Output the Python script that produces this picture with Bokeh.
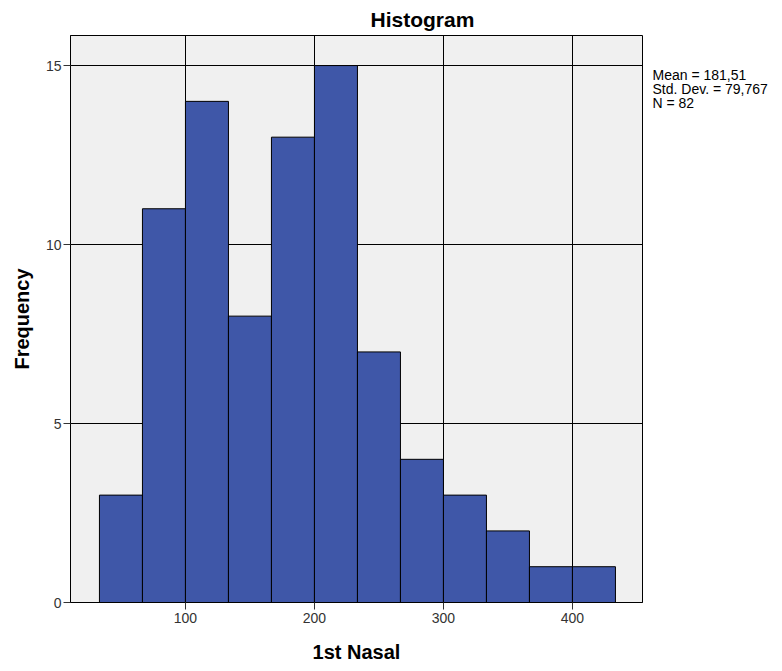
from bokeh.plotting import figure
from bokeh.models import Range1d, FixedTicker, Label
from bokeh.layouts import row
from bokeh.embed import file_html
from bokeh.resources import INLINE

# Histogram data (bin width 33.33)
bin_left = [33.333, 66.667, 100.0, 133.333, 166.667, 200.0, 233.333, 266.667, 300.0, 333.333, 366.667, 400.0]
bin_right = [66.667, 100.0, 133.333, 166.667, 200.0, 233.333, 266.667, 300.0, 333.333, 366.667, 400.0, 433.333]
counts = [3, 11, 14, 8, 13, 15, 7, 4, 3, 2, 1, 1]
x_ticks = [100, 200, 300, 400]
y_ticks = [0, 5, 10, 15]
stats = ["Mean = 181,51", "Std. Dev. = 79,767", "N = 82"]

FONT = "Liberation Sans"

p = figure(width=643, height=671, output_backend="svg", toolbar_location=None,
           x_range=Range1d(10.9, 454.3), y_range=Range1d(0, 15.84),
           min_border_left=70, min_border_right=1, min_border_top=35, min_border_bottom=69,
           title="Histogram")
p.title.text_font = FONT
p.title.text_font_size = "21px"
p.title.text_font_style = "bold"
p.title.text_color = "black"
p.title.align = "left"
p.title.offset = 300
p.title.standoff = 9

p.background_fill_color = "#F0F0F0"
p.border_fill_color = "white"
p.outline_line_color = "black"
p.outline_line_width = 1

p.xgrid.ticker = FixedTicker(ticks=x_ticks)
p.ygrid.ticker = FixedTicker(ticks=[5, 10, 15])
for g in (p.xgrid, p.ygrid):
    g.grid_line_color = "black"
    g.grid_line_width = 1
    g.level = "underlay"

p.quad(left=bin_left, right=bin_right, bottom=0, top=counts,
       fill_color="#3F57A8", line_color="black", line_width=1)

for ax, ticks in ((p.xaxis, x_ticks), (p.yaxis, y_ticks)):
    ax.ticker = FixedTicker(ticks=ticks)
    ax.major_tick_in = 0
    ax.major_tick_out = 7
    ax.minor_tick_line_color = None
    ax.major_tick_line_color = "#333333"
    ax.axis_line_color = "black"
    ax.major_label_text_font = FONT
    ax.major_label_text_font_size = "14px"
    ax.major_label_text_color = "#333333"
    ax.axis_label_text_font = FONT
    ax.axis_label_text_font_size = "20px"
    ax.axis_label_text_font_style = "bold"
    ax.axis_label_text_color = "black"

p.xaxis.axis_label = "1st Nasal"
p.yaxis.axis_label = "Frequency"
p.xaxis.major_label_standoff = 3
p.yaxis.major_label_standoff = 2
p.xaxis.axis_label_standoff = 15
p.yaxis.axis_label_standoff = 10

# side panel holding the statistics text; its frame is aligned with the
# main frame, so its y range is expressed in page pixels (35..602)
s = figure(width=139, height=671, output_backend="svg", toolbar_location=None,
           x_range=Range1d(0, 139), y_range=Range1d(602, 35),
           x_axis_location=None, y_axis_location=None,
           min_border_left=0, min_border_right=0, min_border_top=0, min_border_bottom=0)
s.outline_line_color = None
s.background_fill_color = "white"
s.border_fill_color = "white"
s.xgrid.visible = False
s.ygrid.visible = False

stat_y = [74, 88, 102]
for t, yy in zip(stats, stat_y):
    s.add_layout(Label(x=9, y=yy, text=t, text_font=FONT, text_font_size="14px",
                       text_color="black", text_align="left", text_baseline="middle"))

layout = row(p, s, spacing=0)
open("out.html", "w").write(file_html(layout, INLINE))
